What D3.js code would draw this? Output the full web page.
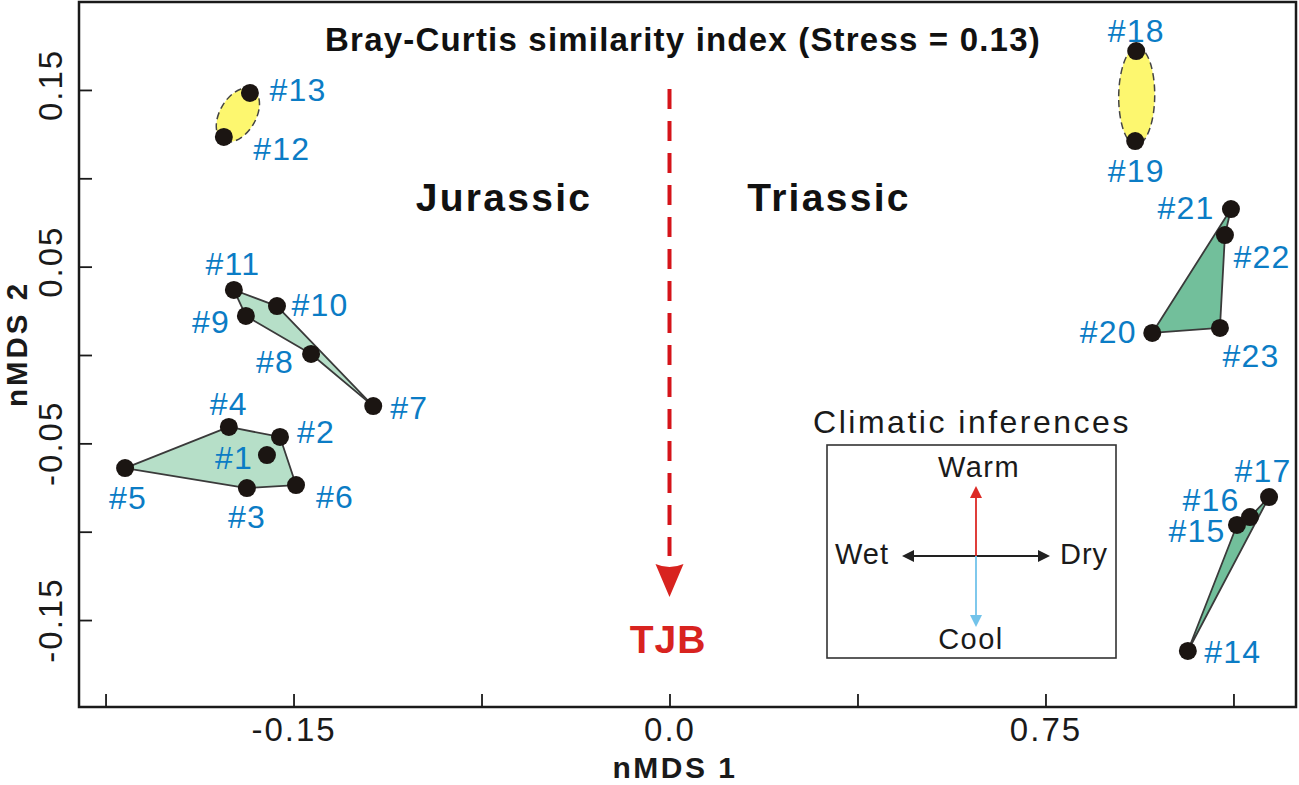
<!DOCTYPE html>
<html>
<head>
<meta charset="utf-8">
<script src="https://cdn.jsdelivr.net/npm/d3@7"></script>
<style>
  body { margin: 0; background: #fff; }
  text { font-family: "Liberation Sans", Arial, sans-serif; }
</style>
</head>
<body>
<svg id="chart" width="1299" height="785"></svg>
<script>
const svg = d3.select("#chart");

// sample scores
const samples = ["#1", "#2", "#3", "#4", "#5", "#6", "#7", "#8", "#9", "#10", "#11", "#12",
  "#13", "#14", "#15", "#16", "#17", "#18", "#19", "#20", "#21", "#22", "#23"];
const nmds1 = [-0.803, -0.777, -0.843, -0.879, -1.086, -0.745, -0.591, -0.715, -0.845, -0.783, -0.869, -0.889,
  -0.837, 1.034, 1.132, 1.158, 1.196, 0.931, 0.929, 0.963, 1.120, 1.108, 1.098];
const nmds2 = [-0.0566, -0.0464, -0.0753, -0.0407, -0.0640, -0.0736, -0.0289, 0.0006, 0.0221, 0.0277, 0.0368, 0.1234,
  0.1483, -0.1675, -0.0962, -0.0917, -0.0804, 0.1720, 0.1211, 0.0125, 0.0826, 0.0679, 0.0153];

// groups, as outlines through the sample numbers
const hullLight = [[5, 4, 2, 6, 3], [11, 10, 7, 8, 9]];
const hullDark = [[20, 21, 22, 23], [14, 15, 16, 17]];
const ovalPairs = [[12, 13], [18, 19]];

// tick values and the labels as printed in the figure
const xTicks = [-1.125, -0.75, -0.375, 0, 0.375, 0.75, 1.125];
const xTickLabels = ["", "-0.15", "", "0.0", "", "0.75", ""];
const yTicks = [0.15, 0.1, 0.05, 0, -0.05, -0.1, -0.15];
const yTickLabels = ["0.15", "", "0.05", "", "-0.05", "", "-0.15"];

// label offset from each point, pixels
const labelOffsets = [[-33, 2], [36, -5], [0, 28], [0, -23], [3, 29], [39, 11], [36, 1], [-36, 8], [-35, 6],
  [43, -2], [-1, -26], [58, 12], [48, -3], [45, 1], [-40, 6], [-39, -18], [-6, -27], [0, -21], [1, 29],
  [-44, -1], [-45, -2], [37, 21], [31, 28]];

const plotL = 79, plotR = 1296, plotT = 2, plotB = 707;

const x = d3.scaleLinear()
  .domain([(plotL - 669.5) / 501.3, (plotR - 669.5) / 501.3])
  .range([plotL, plotR]);
const y = d3.scaleLinear()
  .domain([(355 - plotB) / 1767, (355 - plotT) / 1767])
  .range([plotB, plotT]);

const px = i => x(nmds1[i - 1]);
const py = i => y(nmds2[i - 1]);

svg.append("rect")
  .attr("x", plotL).attr("y", plotT)
  .attr("width", plotR - plotL).attr("height", plotB - plotT)
  .attr("fill", "none").attr("stroke", "#1a1a1a").attr("stroke-width", 2.5);

const xAxis = svg.append("g")
  .attr("transform", `translate(0,${plotB})`)
  .call(d3.axisBottom(x).tickValues(xTicks).tickSize(-13).tickPadding(11)
    .tickFormat((d, i) => xTickLabels[i]));
const yAxis = svg.append("g")
  .attr("transform", `translate(${plotL},0)`)
  .call(d3.axisLeft(y).tickValues(yTicks).tickSize(-13).tickFormat(""));

xAxis.select(".domain").remove();
yAxis.select(".domain").remove();
xAxis.selectAll("line").attr("stroke", "#1a1a1a").attr("stroke-width", 1.8);
yAxis.selectAll("line").attr("stroke", "#1a1a1a").attr("stroke-width", 1.8);
xAxis.selectAll("text")
  .attr("font-size", 33).attr("letter-spacing", 2).attr("fill", "#1a1a1a")
  .style("font-family", '"Liberation Sans", Arial, sans-serif');

svg.selectAll(".ytick")
  .data(yTicks.filter((d, i) => yTickLabels[i]))
  .enter().append("text")
  .attr("class", "ytick")
  .attr("transform", d => `translate(62,${y(d) - (d > 0 ? 5 : 0)}) rotate(-90)`)
  .attr("text-anchor", "middle")
  .attr("font-size", 33).attr("letter-spacing", 2).attr("fill", "#1a1a1a")
  .text(d => yTickLabels[yTicks.indexOf(d)]);

const line = d3.line().curve(d3.curveLinearClosed);
function drawHulls(groups, color) {
  svg.selectAll(null)
    .data(groups)
    .enter().append("path")
    .attr("d", g => line(g.map(i => [px(i), py(i)])))
    .attr("fill", color)
    .attr("stroke", "#3a3a3a").attr("stroke-width", 1.8).attr("stroke-linejoin", "round");
}
drawHulls(hullLight, "#b6dfc8");
drawHulls(hullDark, "#72bf9b");

// yellow ovals around the two-sample groups
svg.selectAll(".oval")
  .data(ovalPairs)
  .enter().append("ellipse")
  .attr("class", "oval")
  .attr("rx", ([a, b]) => Math.hypot(px(b) - px(a), py(b) - py(a)) / 2 + 4)
  .attr("ry", 18)
  .attr("transform", ([a, b]) => {
    const ang = Math.atan2(py(b) - py(a), px(b) - px(a)) * 180 / Math.PI;
    return `translate(${(px(a) + px(b)) / 2 + 1},${(py(a) + py(b)) / 2}) rotate(${ang})`;
  })
  .attr("fill", "#fdf76f")
  .attr("stroke", "#444").attr("stroke-width", 1.5).attr("stroke-dasharray", "7 4");

svg.selectAll(".pt")
  .data(samples)
  .enter().append("circle")
  .attr("class", "pt")
  .attr("cx", (d, i) => x(nmds1[i]))
  .attr("cy", (d, i) => y(nmds2[i]))
  .attr("r", 9)
  .attr("fill", "#1b1512");

svg.selectAll(".lab")
  .data(samples)
  .enter().append("text")
  .attr("class", "lab")
  .attr("x", (d, i) => x(nmds1[i]) + labelOffsets[i][0])
  .attr("y", (d, i) => y(nmds2[i]) + labelOffsets[i][1] + 11.5)
  .attr("text-anchor", "middle")
  .attr("font-size", 32).attr("letter-spacing", 1.2).attr("fill", "#0b7cc5")
  .text(d => d);

function label(txt, cx, base, size, spacing, weight, color) {
  return svg.append("text")
    .attr("x", cx).attr("y", base)
    .attr("text-anchor", "middle")
    .attr("font-size", size).attr("letter-spacing", spacing)
    .attr("font-weight", weight).attr("fill", color)
    .text(txt);
}

label("Bray-Curtis similarity index (Stress = 0.13)", 683, 50.5, 33, 1.2, "bold", "#111");
label("Jurassic", 504, 211, 39, 2.3, "bold", "#111");
label("Triassic", 829, 211, 39, 2.3, "bold", "#111");
label("TJB", 668, 653, 39, 1, "bold", "#d8231f");
label("nMDS 1", 675, 778, 30, 2.5, "bold", "#1a1a1a");
svg.append("text")
  .attr("transform", "translate(27,344) rotate(-90)")
  .attr("text-anchor", "middle")
  .attr("font-size", 29.5).attr("letter-spacing", 3).attr("font-weight", "bold").attr("fill", "#1a1a1a")
  .text("nMDS 2");

// TJB arrow
svg.append("line")
  .attr("x1", x(0)).attr("x2", x(0)).attr("y1", 89).attr("y2", 556)
  .attr("stroke", "#d5141a").attr("stroke-width", 4).attr("stroke-dasharray", "20 12");
svg.append("path")
  .attr("d", `M${x(0) - 14},564 Q${x(0)},570 ${x(0) + 14},564 L${x(0)},597 Z`)
  .attr("fill", "#d8231f");

// climate inset
const cx = 976, cy = 556;
label("Climatic inferences", 972, 433, 32, 2.5, "normal", "#1a1a1a");
svg.append("rect")
  .attr("x", 827).attr("y", 445).attr("width", 289).attr("height", 213)
  .attr("fill", "none").attr("stroke", "#333").attr("stroke-width", 1.6);

const arrows = [
  { dx: 0, dy: -1, len: 70, color: "#dc2a25" },
  { dx: 0, dy: 1, len: 71, color: "#72c3ea" },
  { dx: -1, dy: 0, len: 74, color: "#222" },
  { dx: 1, dy: 0, len: 74, color: "#222" }
];
arrows.slice().reverse().forEach(a => {
  svg.append("line")
    .attr("x1", cx).attr("y1", cy)
    .attr("x2", cx + a.dx * (a.len - 8)).attr("y2", cy + a.dy * (a.len - 8))
    .attr("stroke", a.color).attr("stroke-width", 1.8);
  const tipX = cx + a.dx * a.len, tipY = cy + a.dy * a.len;
  const baseX = tipX - a.dx * 12, baseY = tipY - a.dy * 12;
  svg.append("path")
    .attr("d", `M${tipX},${tipY} L${baseX + a.dy * 6},${baseY + a.dx * 6} L${baseX - a.dy * 6},${baseY - a.dx * 6} Z`)
    .attr("fill", a.color);
});
label("Warm", 979, 477, 29, 1.5, "normal", "#1a1a1a");
label("Cool", 971, 649, 29, 1.5, "normal", "#1a1a1a");
label("Wet", 862, 564, 29, 1, "normal", "#1a1a1a");
label("Dry", 1084, 564, 29, 1, "normal", "#1a1a1a");
</script>
</body>
</html>
